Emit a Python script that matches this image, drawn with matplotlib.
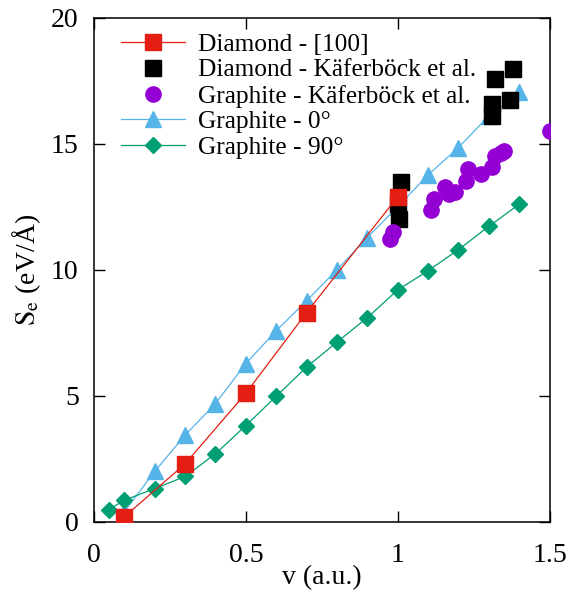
import matplotlib
matplotlib.use("Agg")
import matplotlib.pyplot as plt

plt.rcParams['font.family'] = ['Liberation Serif', 'DejaVu Serif']
plt.rcParams['mathtext.fontset'] = 'stix'

# Diamond - [100]
dia_x = [0.1, 0.3, 0.5, 0.7, 1.0]
dia_y = [0.2, 2.3, 5.1, 8.3, 12.9]

# Diamond - Käferböck et al.
dk_x = [1.01, 1.0, 1.005, 1.32, 1.38, 1.31, 1.31, 1.37]
dk_y = [13.5, 12.6, 12.0, 17.57, 17.96, 16.57, 16.1, 16.73]

# Graphite - Käferböck et al.
gk_x = [0.974, 0.985, 1.11, 1.12, 1.155, 1.17, 1.19, 1.226, 1.23, 1.275, 1.31, 1.32, 1.34, 1.35, 1.50]
gk_y = [11.22, 11.48, 12.37, 12.8, 13.3, 13.0, 13.07, 13.53, 14.0, 13.8, 14.06, 14.52, 14.65, 14.7, 15.5]

# Graphite - 0°
g0_x = [0.1, 0.2, 0.3, 0.4, 0.5, 0.6, 0.7, 0.8, 0.9, 1.0, 1.1, 1.2, 1.3, 1.4]
g0_y = [0.4, 2.0, 3.44, 4.69, 6.28, 7.58, 8.77, 10.0, 11.28, 12.5, 13.76, 14.85, 16.1, 17.04]

# Graphite - 90°
g90_x = [0.05, 0.1, 0.2, 0.3, 0.4, 0.5, 0.6, 0.7, 0.8, 0.9, 1.0, 1.1, 1.2, 1.3, 1.4]
g90_y = [0.49, 0.86, 1.32, 1.8, 2.7, 3.82, 4.98, 6.14, 7.13, 8.1, 9.2, 9.96, 10.8, 11.72, 12.6]

labels = ['Diamond - [100]', 'Diamond - Käferböck et al.', 'Graphite - Käferböck et al.',
          'Graphite - 0°', 'Graphite - 90°']

fig = plt.figure(figsize=(5.73, 5.91), dpi=100)
ax = fig.add_axes([0.164, 0.117, 0.795, 0.853])

red = '#E41E12'
blue = '#56B4E9'
green = '#009E73'
purple = '#9400D3'

h_g0, = ax.plot(g0_x, g0_y, ls='-', lw=0.9, marker='^', ms=11, color=blue, zorder=3)
h_dk, = ax.plot(dk_x, dk_y, ls='none', marker='s', ms=11, color='black', zorder=4)
h_gk, = ax.plot(gk_x, gk_y, ls='none', marker='o', ms=11, color=purple, zorder=4)
h_g90, = ax.plot(g90_x, g90_y, ls='-', lw=0.9, marker='D', ms=8, color=green, zorder=5)
h_dia, = ax.plot(dia_x, dia_y, ls='-', lw=0.9, marker='s', ms=11, color=red, zorder=6)

ax.legend([h_dia, h_dk, h_gk, h_g0, h_g90], labels, loc='upper left', frameon=False,
          fontsize=18.3, handlelength=2.5, handletextpad=0.5, labelspacing=0.12,
          borderaxespad=0.0, borderpad=0.0, bbox_to_anchor=(0.06, 0.97))

ax.set_xlim(0, 1.5)
ax.set_ylim(0, 20)
ax.set_xticks([0, 0.5, 1, 1.5])
ax.set_xticklabels(['0', '0.5', '1', '1.5'])
ax.set_yticks([0, 5, 10, 15, 20])
ax.tick_params(direction='in', length=8, width=1, top=True, right=True,
               labelsize=20, pad=11)
ax.tick_params(axis='x', pad=15)
for s in ax.spines.values():
    s.set_linewidth(1.1)

ax.set_xlabel('v (a.u.)', fontsize=20, labelpad=-2)
ax.set_ylabel(r'$\mathrm{S_e}$ (eV/Å)', fontsize=20, labelpad=6)

fig.savefig('out.png', dpi=100)
